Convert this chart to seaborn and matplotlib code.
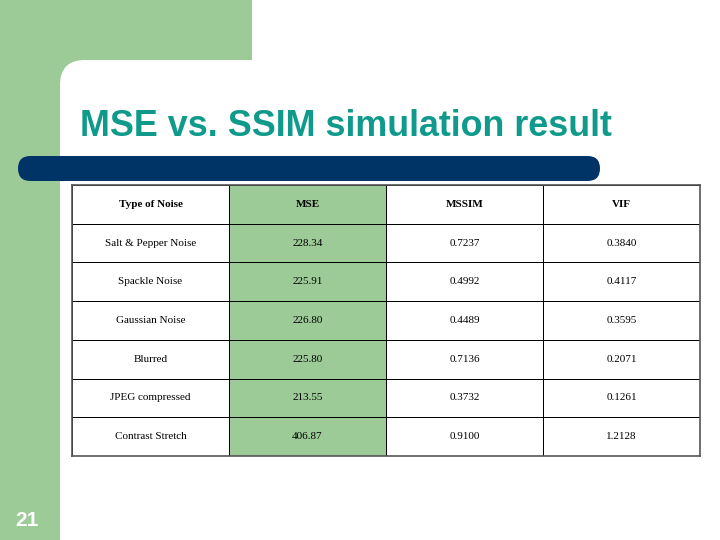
import numpy as np
import matplotlib
matplotlib.use('Agg')
import matplotlib.pyplot as plt
from matplotlib.patches import Rectangle, FancyBboxPatch
from matplotlib.colors import ListedColormap
import seaborn as sns

sns.set_style("white")

# Table data
columns = ["Type of Noise", "MSE", "MSSIM", "VIF"]
noise_types = ["Salt & Pepper Noise", "Spackle Noise", "Gaussian Noise",
               "Blurred", "JPEG compressed", "Contrast Stretch"]
mse = ["228.34", "225.91", "226.80", "225.80", "213.55", "406.87"]
mssim = ["0.7237", "0.4992", "0.4489", "0.7136", "0.3732", "0.9100"]
vif = ["0.3840", "0.4117", "0.3595", "0.2071", "0.1261", "1.2128"]

GREEN = "#9ccb98"
NAVY = "#003366"
TEAL = "#109a8c"

W, H = 720, 540
fig = plt.figure(figsize=(7.2, 5.4), dpi=100)

# background decoration in pixel coords
bg = fig.add_axes([0, 0, 1, 1])
bg.set_xlim(0, W)
bg.set_ylim(H, 0)
bg.axis("off")
bg.add_patch(Rectangle((0, 0), 60, H, color=GREEN, lw=0))
bg.add_patch(Rectangle((0, 0), 252, 60, color=GREEN, lw=0))
bg.add_patch(Rectangle((60, 60), 40, 40, color=GREEN, lw=0))
bg.add_patch(FancyBboxPatch((60, 60), 700, 600, boxstyle="round,pad=0,rounding_size=25",
                            color="white", lw=0))
bg.add_patch(FancyBboxPatch((18, 156), 582, 25, boxstyle="round,pad=0,rounding_size=12.5",
                            color=NAVY, lw=0))
bg.text(80, 127, "MSE vs. SSIM simulation result", color=TEAL, fontsize=25.8,
        fontweight="bold", family="Liberation Sans", va="center", ha="left")
bg.text(27, 520, "21", color="white", fontsize=15, fontweight="bold",
        family="Liberation Sans", va="center", ha="center")

# table drawn as a heatmap
labels = np.array([columns] + [list(r) for r in zip(noise_types, mse, mssim, vif)])
fill = np.zeros(labels.shape)
fill[:, 1] = 1

x0, y0, x1, y1 = 72, 185, 700, 456
ax = fig.add_axes([x0 / W, 1 - y1 / H, (x1 - x0) / W, (y1 - y0) / H])
sns.heatmap(fill, ax=ax, cmap=ListedColormap(["white", GREEN]), cbar=False,
            annot=labels, fmt="", linewidths=0.7, linecolor="black",
            annot_kws={"color": "black", "fontsize": 8, "family": "Liberation Serif"},
            xticklabels=False, yticklabels=False)
for t in ax.texts[:len(columns)]:
    t.set_fontweight("bold")
for s in ax.spines.values():
    s.set_visible(True)
    s.set_color("#555555")
    s.set_linewidth(1.2)

fig.savefig("out.png", dpi=100)
